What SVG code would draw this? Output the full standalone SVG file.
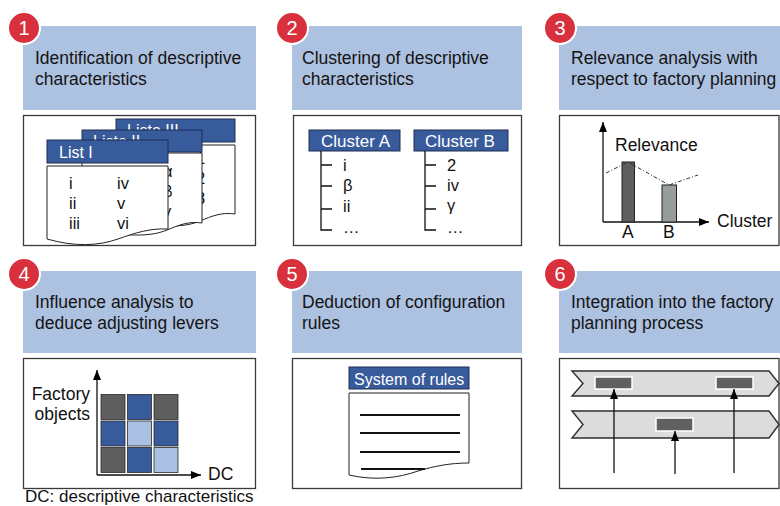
<svg xmlns="http://www.w3.org/2000/svg" width="780" height="506" viewBox="0 0 780 506">
  <defs>
    <style>
      text { font-family: "Liberation Sans", Arial, sans-serif; }
      .hdr { fill: #adc1e1; }
      .box { fill: #ffffff; stroke: #3a3a3a; stroke-width: 1.3; }
      .ht { font-size: 17.5px; fill: #141414; }
      .badge circle { fill: #d8303c; stroke: #ffffff; stroke-width: 2; }
      .badge text { font-size: 20px; fill: #ffffff; text-anchor: middle; }
      .bluehead { fill: #385b9c; stroke: #1e2f52; stroke-width: 1; }
      .wt { font-size: 16px; fill: #ffffff; }
      .doc { fill: #ffffff; stroke: #222222; stroke-width: 1; }
      .it { font-size: 16.5px; fill: #111111; }
      .lbl { font-size: 17.5px; fill: #111111; }
      .ln { stroke: #111111; stroke-width: 1.3; fill: none; }
      .axis { stroke: #111111; stroke-width: 1.3; fill: none; marker-end: url(#arr); }
      .dark { fill: #5e5e5e; stroke: #2a2a2a; stroke-width: 0.8; }
      .blue { fill: #385b9c; stroke: #2a2a2a; stroke-width: 0.8; }
      .light { fill: #a9c0e3; stroke: #2a2a2a; stroke-width: 0.8; }
      .chev { fill: #dcdcdc; stroke: #2e2e2e; stroke-width: 1.4; }
      .task { fill: #606060; stroke: #ffffff; stroke-width: 1.5; }
    </style>
    <marker id="arr" viewBox="0 0 10 8" refX="10" refY="4" markerWidth="10" markerHeight="8" markerUnits="userSpaceOnUse" orient="auto">
      <path d="M0,0 L10,4 L0,8 Z" fill="#000000"/>
    </marker>
  </defs>

  <rect width="780" height="506" fill="#ffffff"/>

  <!-- Step 1: identification -->
  <g id="step1">
    <rect class="hdr" x="23" y="26" width="233" height="84"/>
    <text class="ht" x="35" y="64">Identification of descriptive</text>
    <text class="ht" x="35" y="85">characteristics</text>
    <rect class="box" x="23.5" y="115.5" width="232" height="130"/>
    <!-- stacked lists, back to front -->
    <g id="list3">
      <path class="doc" d="M116,145 H235 V214 C222,212 212,216 200,221 C185,227 170,228 116,222 Z"/>
      <text class="it" x="196" y="164">1</text>
      <text class="it" x="196" y="184">2</text>
      <text class="it" x="196" y="204">3</text>
      <rect class="bluehead" x="116" y="119" width="119" height="23"/>
      <text class="wt" x="127" y="136">Liste III</text>
    </g>
    <g id="list2">
      <path class="doc" d="M82,153 H202 V223 C189,221 179,225 167,230 C152,236 137,237 82,231 Z"/>
      <text class="it" x="163" y="177">α</text>
      <text class="it" x="163" y="197">β</text>
      <text class="it" x="163" y="217">γ</text>
      <rect class="bluehead" x="82" y="130" width="120" height="22"/>
      <text class="wt" x="93" y="147">Liste II</text>
    </g>
    <g id="list1">
      <path class="doc" d="M47,166 H168 V229 C150,228 135,233 118,239 C98,246 75,247 47,239 Z"/>
      <rect class="bluehead" x="47" y="140" width="121" height="23"/>
      <text class="wt" x="59" y="158">List I</text>
      <text class="it" x="69" y="189">i</text>
      <text class="it" x="69" y="209">ii</text>
      <text class="it" x="69" y="229">iii</text>
      <text class="it" x="117" y="189">iv</text>
      <text class="it" x="117" y="209">v</text>
      <text class="it" x="117" y="229">vi</text>
    </g>
    <g class="badge"><circle cx="24" cy="28" r="16"/><text x="24" y="35">1</text></g>
  </g>

  <!-- Step 2: clustering -->
  <g id="step2">
    <rect class="hdr" x="292" y="26" width="230" height="84"/>
    <text class="ht" x="302" y="64">Clustering of descriptive</text>
    <text class="ht" x="302" y="85">characteristics</text>
    <rect class="box" x="293.5" y="115.5" width="228" height="130"/>
    <g id="clusterA">
      <rect class="bluehead" x="309" y="130" width="91" height="21"/>
      <text class="wt" x="321" y="147" style="font-size:17px">Cluster A</text>
      <path class="ln" d="M321,151 V230 H332 M321,165 H332 M321,186 H332 M321,209 H332"/>
      <text class="it" x="343" y="171">i</text>
      <text class="it" x="343" y="191">β</text>
      <text class="it" x="343" y="212">ii</text>
      <text class="it" x="343" y="233">…</text>
    </g>
    <g id="clusterB">
      <rect class="bluehead" x="414" y="130" width="94" height="21"/>
      <text class="wt" x="425" y="147" style="font-size:17px">Cluster B</text>
      <path class="ln" d="M425,151 V230 H436 M425,165 H436 M425,186 H436 M425,209 H436"/>
      <text class="it" x="447" y="171">2</text>
      <text class="it" x="447" y="191">iv</text>
      <text class="it" x="447" y="211">γ</text>
      <text class="it" x="447" y="233">…</text>
    </g>
    <g class="badge"><circle cx="292" cy="28" r="16"/><text x="292" y="35">2</text></g>
  </g>

  <!-- Step 3: relevance analysis -->
  <g id="step3">
    <rect class="hdr" x="559" y="26" width="230" height="84"/>
    <text class="ht" x="571" y="64">Relevance analysis with</text>
    <text class="ht" x="571" y="85">respect to factory planning</text>
    <rect class="box" x="559.5" y="115.5" width="219.5" height="130"/>
    <line class="axis" x1="603" y1="222" x2="603" y2="122"/>
    <line class="axis" x1="603" y1="222" x2="709" y2="222"/>
    <text class="lbl" x="615" y="151">Relevance</text>
    <rect x="622" y="162" width="12.5" height="60" fill="#5e5e5e" stroke="#222" stroke-width="1"/>
    <rect x="662" y="185" width="14.5" height="37" fill="#979d9a" stroke="#222" stroke-width="1"/>
    <polyline points="606,173 628,162 669,185 698,175" fill="none" stroke="#333" stroke-width="1" stroke-dasharray="4 2 1 2"/>
    <text class="lbl" x="622" y="238">A</text>
    <text class="lbl" x="663" y="238">B</text>
    <text class="lbl" x="717" y="227">Cluster</text>
    <g class="badge"><circle cx="560" cy="28" r="16"/><text x="560" y="35">3</text></g>
  </g>

  <!-- Step 4: influence analysis -->
  <g id="step4">
    <rect class="hdr" x="23" y="271" width="233" height="82"/>
    <text class="ht" x="35" y="308">Influence analysis to</text>
    <text class="ht" x="35" y="329">deduce adjusting levers</text>
    <rect class="box" x="23.5" y="358.5" width="232" height="130"/>
    <line class="axis" x1="97" y1="475" x2="97" y2="370"/>
    <line class="axis" x1="97" y1="475" x2="201" y2="475"/>
    <text class="lbl" x="90" y="400" text-anchor="end">Factory</text>
    <text class="lbl" x="90" y="420" text-anchor="end">objects</text>
    <text class="lbl" x="208" y="480">DC</text>
    <g id="matrix">
      <rect class="dark" x="101" y="394.5" width="24" height="25"/>
      <rect class="blue" x="127.5" y="394.5" width="24" height="25"/>
      <rect class="dark" x="154" y="394.5" width="24" height="25"/>
      <rect class="blue" x="101" y="421" width="24" height="25"/>
      <rect class="light" x="127.5" y="421" width="24" height="25"/>
      <rect class="blue" x="154" y="421" width="24" height="25"/>
      <rect class="dark" x="101" y="447.5" width="24" height="25"/>
      <rect class="blue" x="127.5" y="447.5" width="24" height="25"/>
      <rect class="light" x="154" y="447.5" width="24" height="25"/>
    </g>
    <g class="badge"><circle cx="24" cy="274" r="16"/><text x="24" y="281">4</text></g>
  </g>

  <!-- Step 5: configuration rules -->
  <g id="step5">
    <rect class="hdr" x="292" y="271" width="230" height="82"/>
    <text class="ht" x="302" y="308">Deduction of configuration</text>
    <text class="ht" x="302" y="329">rules</text>
    <rect class="box" x="292.5" y="358.5" width="229" height="130"/>
    <rect class="bluehead" x="349" y="367" width="120" height="22"/>
    <text class="wt" x="354" y="385">System of rules</text>
    <path class="doc" d="M349,393 H469 V463 C450,463 435,466 418,471 C398,478 375,481 349,475 Z"/>
    <path d="M360,415 H460 M360,433 H460 M360,452 H460 M361,469 H425" stroke="#111" stroke-width="1.8" fill="none"/>
    <g class="badge"><circle cx="292" cy="274" r="16"/><text x="292" y="281">5</text></g>
  </g>

  <!-- Step 6: integration into planning process -->
  <g id="step6">
    <rect class="hdr" x="559" y="271" width="230" height="82"/>
    <text class="ht" x="571" y="308">Integration into the factory</text>
    <text class="ht" x="571" y="329">planning process</text>
    <rect class="box" x="559.5" y="358.5" width="219.5" height="130"/>
    <path class="chev" d="M572,371 H769 L779,383.5 L769,396 H572 L583,383.5 Z"/>
    <path class="chev" d="M572,411 H769 L779,424.5 L769,438 H572 L583,424.5 Z"/>
    <rect class="task" x="595" y="377" width="37" height="12"/>
    <rect class="task" x="716" y="377" width="37" height="12"/>
    <rect class="task" x="656" y="418" width="37" height="13"/>
    <g id="connectors">
      <line class="axis" x1="614" y1="473" x2="614" y2="389"/>
      <line class="axis" x1="675" y1="474" x2="675" y2="431"/>
      <line class="axis" x1="734" y1="473" x2="734" y2="389"/>
    </g>
    <g class="badge"><circle cx="560" cy="274" r="16"/><text x="560" y="281">6</text></g>
  </g>

  <text x="25" y="502" style="font-size:17px" fill="#111">DC: descriptive characteristics</text>
</svg>
